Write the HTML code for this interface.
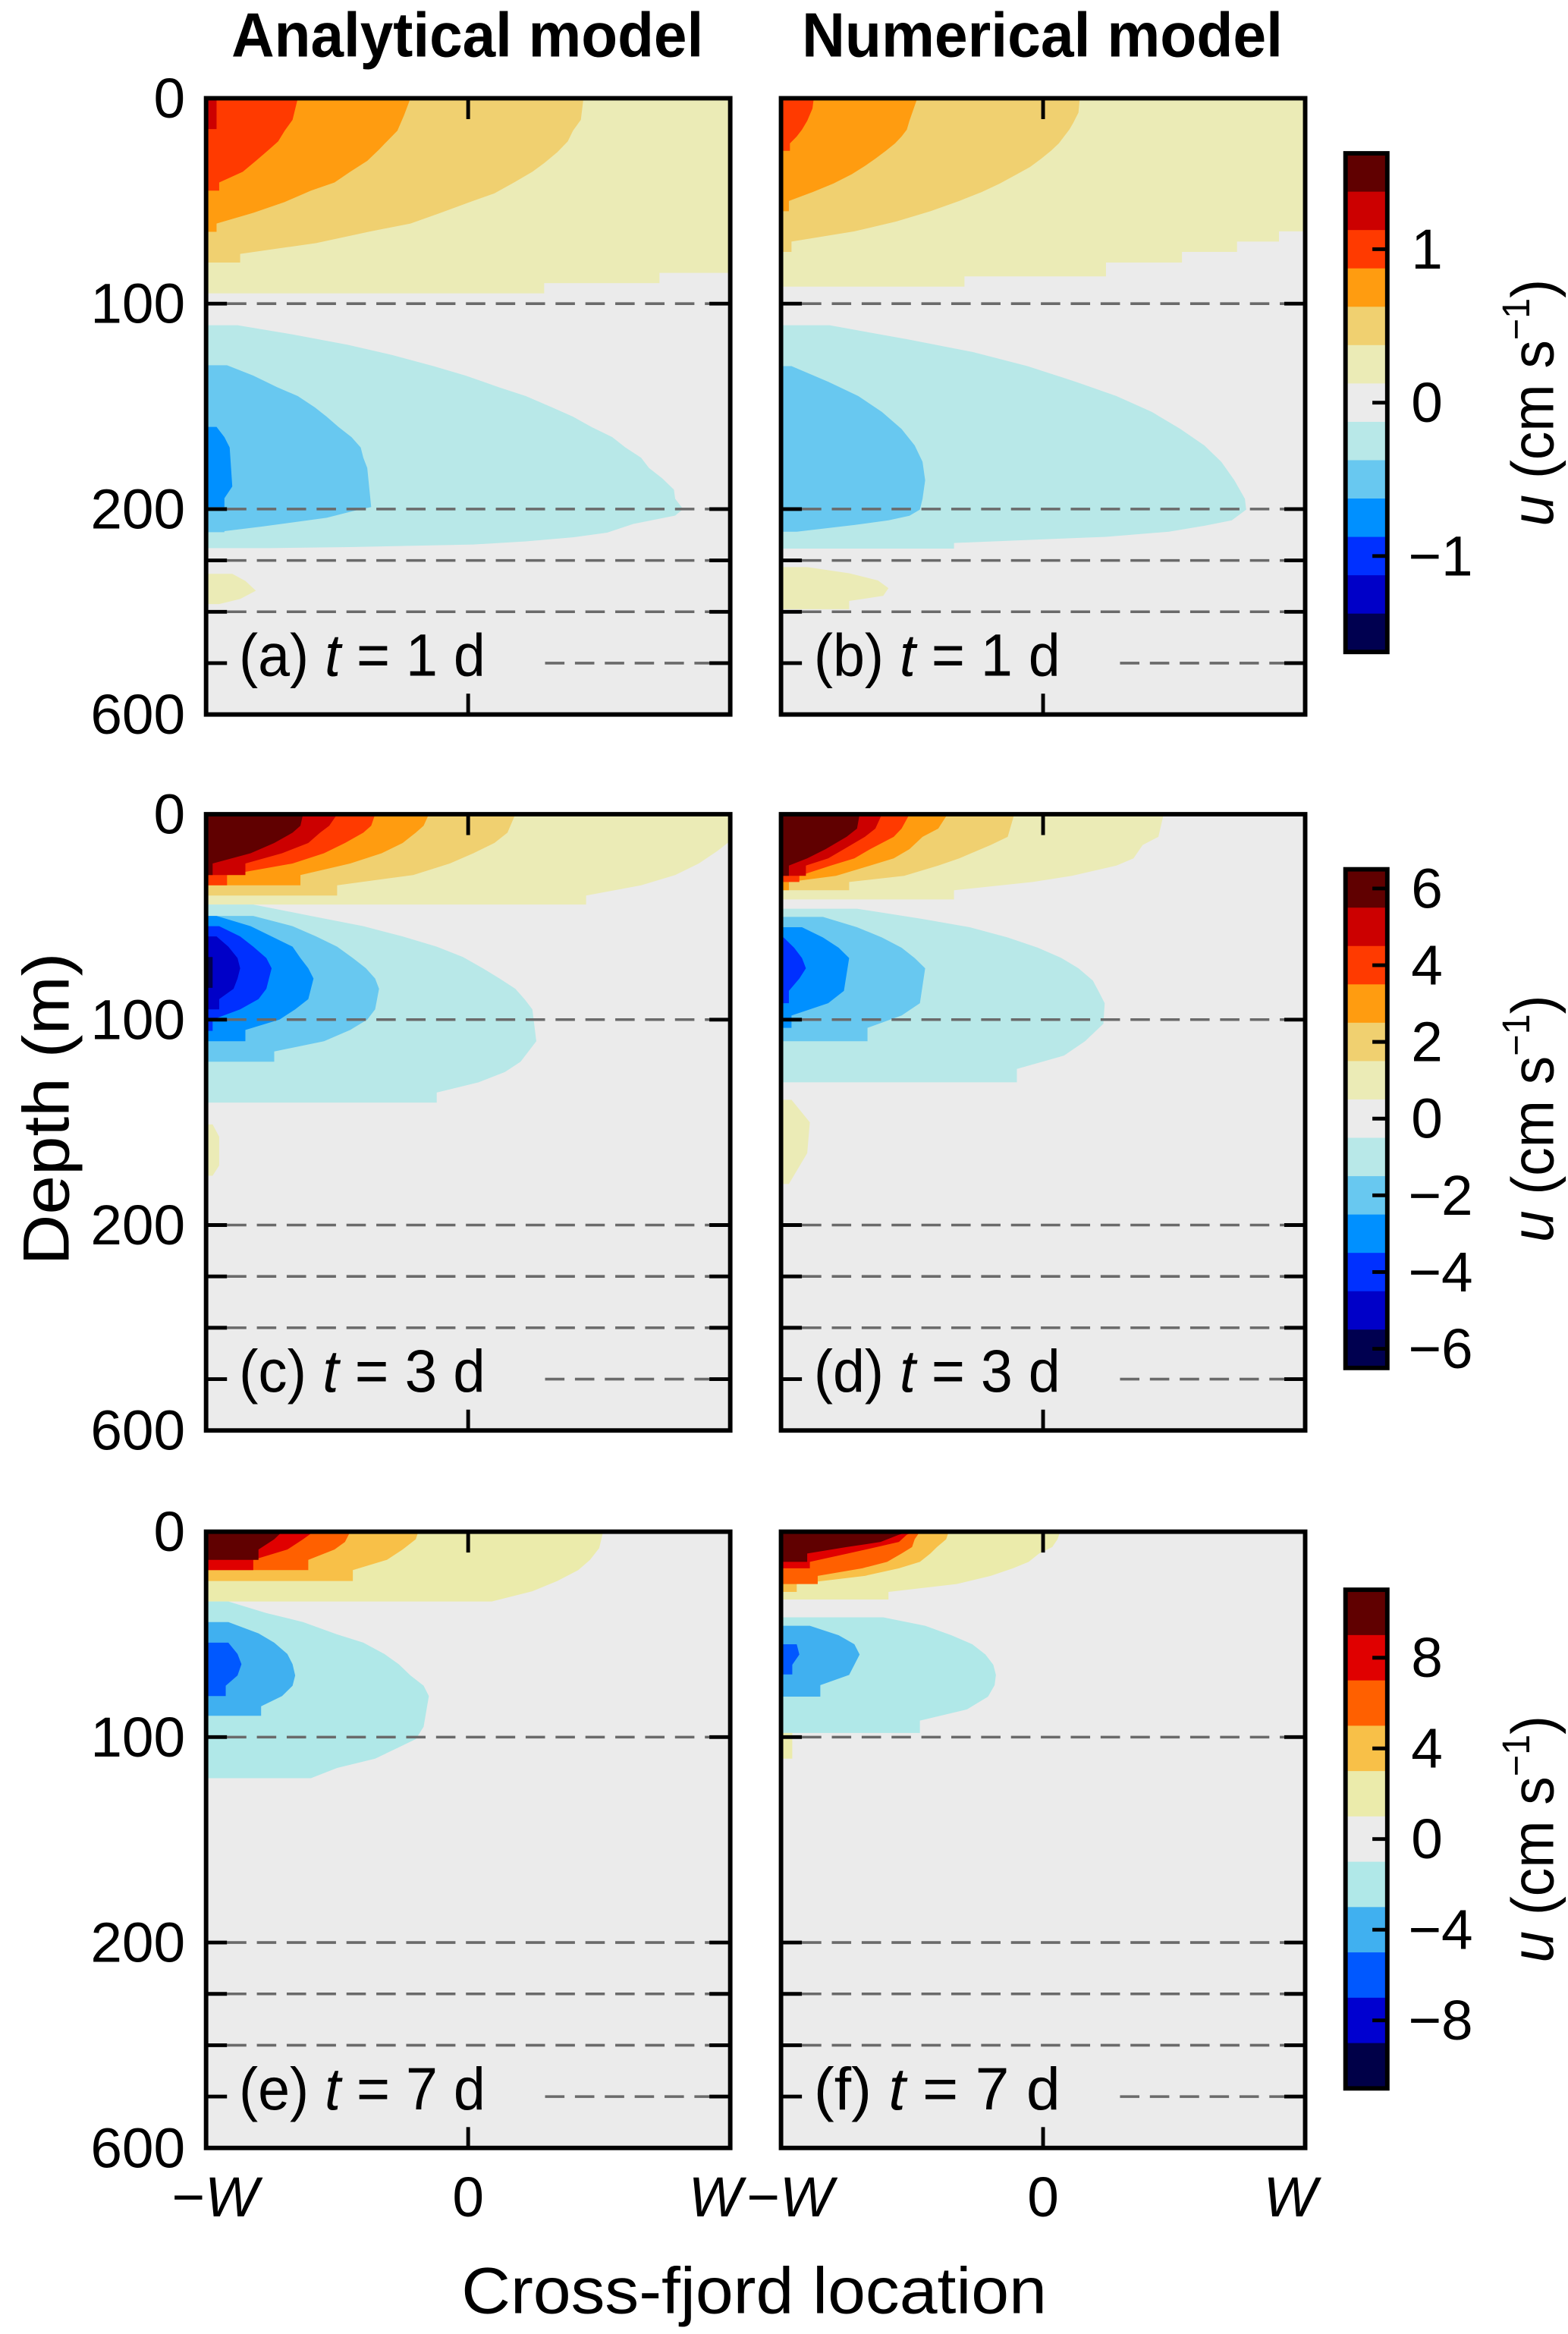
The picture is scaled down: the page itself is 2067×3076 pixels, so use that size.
<!DOCTYPE html>
<html><head><meta charset="utf-8"><style>
html,body{margin:0;padding:0;background:#fff;}
svg{display:block;}
text{font-family:"Liberation Sans",sans-serif;fill:#000;}
</style></head><body>
<svg id="fig" xmlns="http://www.w3.org/2000/svg" width="2067" height="3076" viewBox="0 0 1050 1568" preserveAspectRatio="none">
<rect width="1050" height="1568" fill="#fff"/>
<text x="313" y="38" text-anchor="middle" font-size="42" font-weight="bold" textLength="316" lengthAdjust="spacingAndGlyphs">Analytical model</text>
<text x="698" y="38" text-anchor="middle" font-size="42" font-weight="bold" textLength="322" lengthAdjust="spacingAndGlyphs">Numerical model</text>
<text transform="translate(46,745) rotate(-90)" text-anchor="middle" font-size="44" textLength="210" lengthAdjust="spacingAndGlyphs">Depth (m)</text>
<text x="505" y="1554" text-anchor="middle" font-size="44" textLength="392" lengthAdjust="spacingAndGlyphs">Cross-fjord location</text>
<g id="layer"></g>
</svg>
<script>
// ---- colour levels (index 0 = level -6 ... 12 = level +6) ----
const colorsRow12 = ["#000050","#0000c8","#0030ff","#0090ff","#68c8f0","#b8e8e8","#ebebeb","#ebebb6","#f0d070","#ff9c10","#ff3a00","#cc0000","#600000"];
const colorsRow3 = ["#000048","#0000d0","#0058ff","#40b0f0","#b0e8e8","#ebebeb","#ebebab","#f8c048","#ff6000","#e00000","#600000"];
// colorbar ticks
const cbTicks1 = [1,0,-1];
const cbTicks2 = [6,4,2,0,-2,-4,-6];
const cbTicks3 = [8,4,0,-4,-8];
const cbStep1 = 0.25, cbStep2 = 1, cbStep3 = 2;
const depthTicks = [0,100,200,300,400,500,600];
const depthTickLabels = ["0","100","200","","","","600"];
const xTicks = [-1,0,1];
const xTickLabels = ["\u2212W","0","W"];
const dashedDepths = [100,200,300,400];
const panelLabels = ["(a)","(b)","(c)","(d)","(e)","(f)"];
const panelTimes = ["1","1","3","3","7","7"];

// ---- field lobes: [level, [[depth(m), x/W], ...]] ----
const lobesA = [
 [1,[[0,1],[85,1],[85,0.73],[90,0.73],[90,0.29],[95,0.29]]],
 [2,[[0,0.44],[10.5,0.43],[15.8,0.40],[21,0.38],[26.3,0.34],[31.6,0.29],[35.8,0.245],[41,0.175],[46.3,0.10],[50.5,0.007],[55.8,-0.105],[61,-0.22],[65,-0.38],[70.5,-0.58],[75.8,-0.87],[80,-0.87]]],
 [3,[[0,-0.22],[8.4,-0.245],[15.8,-0.27],[21,-0.31],[25,-0.34],[30.5,-0.385],[35.8,-0.45],[41,-0.51],[45,-0.60],[50.5,-0.70],[55.8,-0.82],[61,-0.96],[65,-0.96]]],
 [4,[[0,-0.65],[10.5,-0.67],[15.8,-0.70],[21,-0.725],[25,-0.76],[30.5,-0.81],[35.8,-0.86],[41,-0.95],[45,-0.95]]],
 [5,[[0,-0.96],[15,-0.96]]],
 [-1,[[110.5,-0.88],[115,-0.67],[120,-0.46],[125,-0.29],[130.5,-0.13],[135,-0.01],[140.6,0.115],[145,0.22],[150.5,0.32],[155,0.40],[160,0.47],[165,0.55],[170,0.60],[175,0.66],[180,0.69],[185,0.74],[190.5,0.785],[195,0.79],[200,0.82],[212.6,0.79],[229,0.63],[246,0.53],[255,0.40],[263,0.22],[269,0.02],[274,-0.45],[276,-0.76]]],
 [-2,[[130,-0.92],[135,-0.82],[140.6,-0.73],[145,-0.65],[150.5,-0.585],[155,-0.54],[160,-0.495],[165,-0.445],[170,-0.41],[175,-0.40],[180,-0.385],[199,-0.37],[204,-0.44],[217,-0.54],[226,-0.67],[234,-0.785],[243,-0.93],[245,-0.93]]],
 [-3,[[160,-0.96],[165,-0.93],[170,-0.91],[189,-0.90],[194.7,-0.93],[199,-0.93]]],
 [1,[[326,-0.9],[340,-0.85],[359,-0.81],[375,-0.87],[385,-0.95]]]
];
const lobesB = [
 [1,[[0,1],[64.8,1],[64.8,0.90],[69.8,0.90],[69.8,0.74],[74.8,0.74],[74.8,0.53],[80,0.53],[80,0.24],[86.7,0.24],[86.7,-0.30],[91.7,-0.30]]],
 [2,[[0,0.14],[7,0.135],[12,0.115],[15.3,0.10],[18.6,0.08],[22,0.06],[25.6,0.03],[29.4,-0.007],[33.5,-0.05],[37,-0.10],[41.5,-0.165],[45.7,-0.235],[50,-0.32],[55,-0.43],[60,-0.56],[64.8,-0.72],[69.8,-0.96],[74.8,-0.96]]],
 [3,[[0,-0.48],[11,-0.51],[15.3,-0.52],[18.6,-0.54],[22,-0.565],[25.6,-0.60],[29.4,-0.64],[33,-0.68],[37,-0.73],[41.5,-0.80],[45.7,-0.88],[50,-0.97],[55,-0.97]]],
 [4,[[0,-0.875],[5,-0.88],[11,-0.90],[15.3,-0.92],[18.6,-0.94],[22,-0.966],[25.6,-0.966]]],
 [-1,[[110.5,-0.815],[117.4,-0.516],[123.6,-0.266],[130.4,-0.06],[138,0.124],[145,0.28],[152.7,0.415],[161,0.524],[169,0.615],[177,0.68],[186,0.73],[195,0.77],[201,0.775],[222,0.72],[232,0.62],[244,0.48],[254,0.24],[266,-0.34],[277,-0.34]]],
 [-2,[[130.4,-0.96],[138,-0.82],[145,-0.705],[152.7,-0.615],[161,-0.54],[169,-0.49],[177,-0.46],[186,-0.45],[195,-0.46],[201,-0.47],[213,-0.51],[222,-0.59],[231,-0.72],[244,-0.94]]],
 [1,[[313,-0.90],[325,-0.74],[339,-0.63],[354,-0.59],[369,-0.61],[379,-0.74],[395,-0.74]]]
];
const lobesC = [
 [1,[[0,1],[11,1],[18,0.95],[24,0.88],[29.6,0.79],[34.6,0.66],[39.6,0.45],[44,0.45]]],
 [2,[[0,0.18],[9,0.15],[14,0.10],[19,0.02],[24,-0.07],[29.6,-0.21],[34.6,-0.5],[39.6,-0.5]]],
 [3,[[0,-0.15],[5.6,-0.17],[9,-0.2],[14,-0.25],[19,-0.33],[24,-0.45],[29.6,-0.64],[34.6,-0.64]]],
 [4,[[0,-0.355],[5.6,-0.37],[9,-0.40],[14,-0.47],[19,-0.55],[24,-0.67],[29.6,-0.92],[34.6,-0.92]]],
 [5,[[0,-0.5],[5.6,-0.53],[9,-0.565],[14,-0.61],[19,-0.71],[24,-0.85],[29.6,-0.85]]],
 [6,[[0,-0.63],[5.6,-0.64],[9,-0.67],[14,-0.74],[19,-0.83],[24,-0.975],[29.6,-0.975]]],
 [-1,[[44,-0.82],[49.5,-0.6],[54.5,-0.40],[59.5,-0.25],[64.5,-0.12],[69.5,-0.02],[75,0.056],[80,0.12],[85,0.18],[90,0.215],[95,0.245],[110.5,0.26],[115.5,0.23],[120.5,0.20],[125.5,0.14],[130.5,0.04],[135.5,-0.12],[140.4,-0.12]]],
 [-2,[[49.5,-0.82],[54.5,-0.67],[59.5,-0.58],[64.5,-0.5],[70,-0.44],[75,-0.39],[80,-0.355],[85,-0.34],[95,-0.355],[100,-0.385],[105,-0.45],[110.5,-0.55],[115.5,-0.74],[120.5,-0.74]]],
 [-3,[[49.5,-0.96],[54.5,-0.83],[59.5,-0.75],[64.5,-0.67],[70,-0.64],[75,-0.61],[80,-0.59],[90,-0.61],[95,-0.66],[100,-0.72],[105,-0.85],[110.5,-0.85]]],
 [-4,[[54.5,-0.95],[59.5,-0.87],[64.5,-0.82],[70,-0.77],[75,-0.75],[85,-0.77],[90,-0.80],[95,-0.87],[100,-0.975],[105.5,-0.975]]],
 [-5,[[59.5,-0.96],[64.5,-0.915],[70,-0.88],[75,-0.87],[80,-0.88],[85,-0.895],[90,-0.95],[95,-0.95]]],
 [-6,[[69.5,-0.975],[84.5,-0.975]]],
 [1,[[151,-0.975],[157,-0.95],[171,-0.95],[176,-0.975]]]
];
const lobesD = [
 [1,[[0,0.46],[11,0.44],[15,0.38],[21.5,0.345],[25,0.28],[30,0.11],[33,-0.04],[37,-0.34],[41.5,-0.34]]],
 [2,[[0,-0.11],[11,-0.135],[15,-0.2],[21.5,-0.32],[25,-0.4],[30,-0.53],[33,-0.74],[37,-0.74]]],
 [3,[[0,-0.365],[7,-0.4],[11,-0.46],[17,-0.51],[21.5,-0.57],[25,-0.66],[30,-0.79],[33,-0.97],[37,-0.97]]],
 [4,[[0,-0.51],[7,-0.54],[11,-0.57],[17,-0.66],[21.5,-0.72],[25,-0.81],[30,-0.93],[33,-0.93]]],
 [5,[[0,-0.615],[7,-0.64],[11,-0.68],[17,-0.76],[21.5,-0.82],[25,-0.905],[30,-0.905]]],
 [6,[[0,-0.70],[7,-0.71],[11,-0.75],[17,-0.83],[21.5,-0.9],[25,-0.97],[30,-0.97]]],
 [-1,[[46,-0.71],[51,-0.46],[55,-0.28],[60,-0.135],[65,-0.02],[70,0.07],[75,0.135],[81,0.19],[87,0.215],[92,0.235],[102,0.23],[110.5,0.16],[117.5,0.08],[124,-0.10],[130.5,-0.10]]],
 [-2,[[50,-0.84],[55,-0.71],[60,-0.615],[65,-0.54],[70,-0.49],[75,-0.45],[92,-0.47],[98,-0.54],[104,-0.67],[110.5,-0.67]]],
 [-3,[[55,-0.92],[60,-0.84],[65,-0.78],[70,-0.74],[86,-0.76],[92,-0.82],[98,-0.96],[104,-0.96]]],
 [-4,[[60,-0.99],[65,-0.95],[70,-0.92],[75,-0.905],[80,-0.93],[86,-0.97],[92,-0.97]]],
 [1,[[139,-0.96],[150,-0.89],[165,-0.9],[180,-0.97]]]
];
const lobesE = [
 [1,[[0,0.515],[8,0.50],[13.7,0.465],[18.7,0.42],[24,0.34],[29,0.245],[34,0.09]]],
 [2,[[0,-0.19],[3.7,-0.2],[8.7,-0.25],[13.7,-0.31],[18.7,-0.44],[24,-0.44]]],
 [3,[[0,-0.45],[5,-0.47],[8.7,-0.51],[13.7,-0.61],[18.7,-0.61]]],
 [4,[[0,-0.59],[3.7,-0.63],[8.7,-0.69],[13.7,-0.82],[18.7,-0.82]]],
 [5,[[0,-0.71],[3.7,-0.74],[8.7,-0.80],[13.7,-0.80]]],
 [-1,[[34,-0.915],[39.6,-0.77],[44,-0.63],[50,-0.5],[54,-0.40],[59.5,-0.32],[64.5,-0.265],[70,-0.22],[75,-0.17],[80,-0.15],[95,-0.17],[101,-0.2],[105,-0.265],[110.5,-0.355],[115,-0.5],[120,-0.6]]],
 [-2,[[44,-0.915],[49.5,-0.80],[54,-0.74],[59.5,-0.69],[64.5,-0.67],[70,-0.66],[75,-0.67],[80,-0.71],[85,-0.79],[89.6,-0.79]]],
 [-3,[[54,-0.915],[59.5,-0.88],[64.5,-0.865],[70,-0.88],[75,-0.925],[80,-0.925]]]
];
const lobesF = [
 [1,[[0,0.065],[3.7,0.055],[7.5,0.035],[10.6,-0.015],[14.7,-0.055],[17.8,-0.115],[21.5,-0.2],[25.5,-0.33],[29.3,-0.59],[33,-0.59]]],
 [2,[[0,-0.36],[3.7,-0.37],[7.5,-0.405],[10.6,-0.43],[14.7,-0.47],[17.8,-0.55],[21.5,-0.68],[25.5,-0.94],[29.3,-0.94]]],
 [3,[[0,-0.47],[3.7,-0.49],[7.5,-0.50],[10.6,-0.54],[14.7,-0.595],[17.8,-0.69],[21.5,-0.86],[25.5,-0.86]]],
 [4,[[0,-0.49],[1.5,-0.52],[5,-0.55],[7.5,-0.635],[10.6,-0.745],[14.7,-0.89],[17.8,-0.89]]],
 [5,[[0,-0.51],[1.5,-0.55],[5,-0.62],[7.5,-0.75],[10.6,-0.9],[14.7,-0.9]]],
 [-1,[[41.7,-0.61],[45.8,-0.45],[50.4,-0.35],[54.8,-0.27],[59.8,-0.22],[64.8,-0.19],[69.7,-0.18],[74.7,-0.185],[80.3,-0.21],[86.5,-0.29],[92,-0.47],[98,-0.47]]],
 [-2,[[45.8,-0.89],[50.4,-0.78],[54.8,-0.72],[59.8,-0.70],[69.7,-0.74],[74.7,-0.85],[80.3,-0.85]]],
 [-3,[[54.8,-0.94],[59.8,-0.93],[64.8,-0.957],[69.5,-0.957]]],
 [1,[[98,-0.957],[110.5,-0.957]]]
];

const NS = "http://www.w3.org/2000/svg";
const layer = document.getElementById('layer');
function mk(tag, attrs, parent){
  const e = document.createElementNS(NS, tag);
  for (const k in attrs) e.setAttribute(k, attrs[k]);
  (parent||layer).appendChild(e);
  return e;
}
const PW = 351, PH = 414;
const panelX = [138, 523];
const rowY = [66, 547, 1029];
function yScale(d, y0){ return d <= 200 ? y0 + d*1.38 : y0 + 276 + (d-200)*0.345; }
function xScale(x, x0){ return x0 + (x+1)*PW/2; }

const allLobes = [lobesA, lobesB, lobesC, lobesD, lobesE, lobesF];
const panelNames = ['panel-a','panel-b','panel-c','panel-d','panel-e','panel-f'];

for (let p=0; p<6; p++){
  const row = Math.floor(p/2), col = p%2;
  const x0 = panelX[col], y0 = rowY[row];
  const cols = row===2 ? colorsRow3 : colorsRow12;
  const mid = (cols.length-1)/2;
  const g = mk('g', {});
  
  
  const cid = 'clip'+p;
  const cp = mk('clipPath', {id:cid}, g);
  mk('rect', {x:x0, y:y0, width:PW, height:PH}, cp);
  const bg = mk('rect', {x:x0, y:y0, width:PW, height:PH, fill:'#ebebeb'}, g);
  
  
  const fg = mk('g', {'clip-path':'url(#'+cid+')'}, g);
  const lobes = allLobes[p].slice().sort((a,b)=>Math.abs(a[0])-Math.abs(b[0]));
  for (const lb of lobes){
    const lev = lb[0], pts = lb[1];
    let s = 'M'+xScale(-1.02,x0)+','+yScale(pts[0][0],y0);
    for (const q of pts) s += ' L'+xScale(q[1]>0.99?1.02:q[1],x0)+','+yScale(q[0],y0);
    s += ' L'+xScale(-1.02,x0)+','+yScale(pts[pts.length-1][0],y0)+' Z';
    const path = mk('path', {d:s, fill:cols[mid+lev]}, fg);
    
    
  }
  for (const dd of dashedDepths){
    const y = yScale(dd,y0);
    const ln = mk('line', {x1:x0+14, x2:x0+PW-14, y1:y, y2:y, stroke:'#6a6a6a', 'stroke-width':1.8, 'stroke-dasharray':'13,7'}, g);
    
    
  }
  const y5 = yScale(500,y0);
  const ln5 = mk('line', {x1:x0+227, x2:x0+PW-14, y1:y5, y2:y5, stroke:'#6a6a6a', 'stroke-width':1.8, 'stroke-dasharray':'13,7'}, g);
  
  
  for (let i=1;i<depthTicks.length-1;i++){
    const y = yScale(depthTicks[i],y0);
    mk('line', {x1:x0, x2:x0+14, y1:y, y2:y, stroke:'#000', 'stroke-width':2.5}, g);
    mk('line', {x1:x0+PW-14, x2:x0+PW, y1:y, y2:y, stroke:'#000', 'stroke-width':2.5}, g);
  }
  mk('line', {x1:xScale(0,x0), x2:xScale(0,x0), y1:y0, y2:y0+14, stroke:'#000', 'stroke-width':2.5}, g);
  mk('line', {x1:xScale(0,x0), x2:xScale(0,x0), y1:y0+PH-14, y2:y0+PH, stroke:'#000', 'stroke-width':2.5}, g);
  const fr = mk('rect', {x:x0, y:y0, width:PW, height:PH, fill:'none', stroke:'#000', 'stroke-width':3}, g);
  
  
  const lbl = mk('text', {x:x0+22, y:y0+388, 'font-size':40}, g);
  
  
  lbl.setAttribute('textLength', '165');
  lbl.setAttribute('lengthAdjust', 'spacingAndGlyphs');
  lbl.innerHTML = panelLabels[p]+' <tspan font-style="italic">t</tspan> = '+panelTimes[p]+' d';
  if (col===0){
    for (let i=0;i<depthTicks.length;i++){
      if (!depthTickLabels[i]) continue;
      const t = mk('text', {x:x0-14, y:yScale(depthTicks[i],y0)+13, 'text-anchor':'end', 'font-size':38}, g);
      
      
      t.textContent = depthTickLabels[i];
    }
  }
  if (row===2){
    for (let i=0;i<xTicks.length;i++){
      const xx = xScale(xTicks[i],x0) + (i===2?-10:(i===0?6:0));
      const t = mk('text', {x:xx, y:1489, 'text-anchor':'middle', 'font-size':38}, g);
      
      
      if (i===1) t.textContent = xTickLabels[i];
      else t.innerHTML = (i===0?'\u2212':'')+'<tspan font-style="italic">W</tspan>';
    }
  }
}

const cbTicks = [cbTicks1, cbTicks2, cbTicks3];
const cbSteps = [cbStep1, cbStep2, cbStep3];
const cbTop = [103, 584, 1068];
const CBH = 335, CBX = 901, CBW = 28;
for (let r=0;r<3;r++){
  const cols = r===2 ? colorsRow3 : colorsRow12;
  const n = cols.length, bh = CBH/n, y0 = cbTop[r];
  const g = mk('g', {});
  
  
  for (let i=0;i<n;i++){
    mk('rect', {x:CBX, y:y0+i*bh, width:CBW, height:bh+0.5, fill:cols[n-1-i]}, g);
  }
  mk('rect', {x:CBX, y:y0, width:CBW, height:CBH, fill:'none', stroke:'#000', 'stroke-width':3}, g);
  const cy = y0 + CBH/2;
  for (const v of cbTicks[r]){
    const y = cy - v/cbSteps[r]*bh;
    mk('line', {x1:CBX+CBW-10, x2:CBX+CBW, y1:y, y2:y, stroke:'#000', 'stroke-width':2.5}, g);
    const t = mk('text', {x:v<0?943:945, y:y+13, 'font-size':38}, g);
    
    
    t.textContent = (v<0?'\u2212':'')+Math.abs(v);
  }
  const lab = mk('text', {transform:'translate(1040,'+cy+') rotate(-90)', 'text-anchor':'middle', 'font-size':40}, g);
  
  
  lab.setAttribute('textLength', '166');
  lab.setAttribute('lengthAdjust', 'spacingAndGlyphs');
  lab.innerHTML = '<tspan font-style="italic">u</tspan> (cm s<tspan font-size="26" dy="-16">\u22121</tspan><tspan dy="16">)</tspan>';
}
</script>
</body></html>
